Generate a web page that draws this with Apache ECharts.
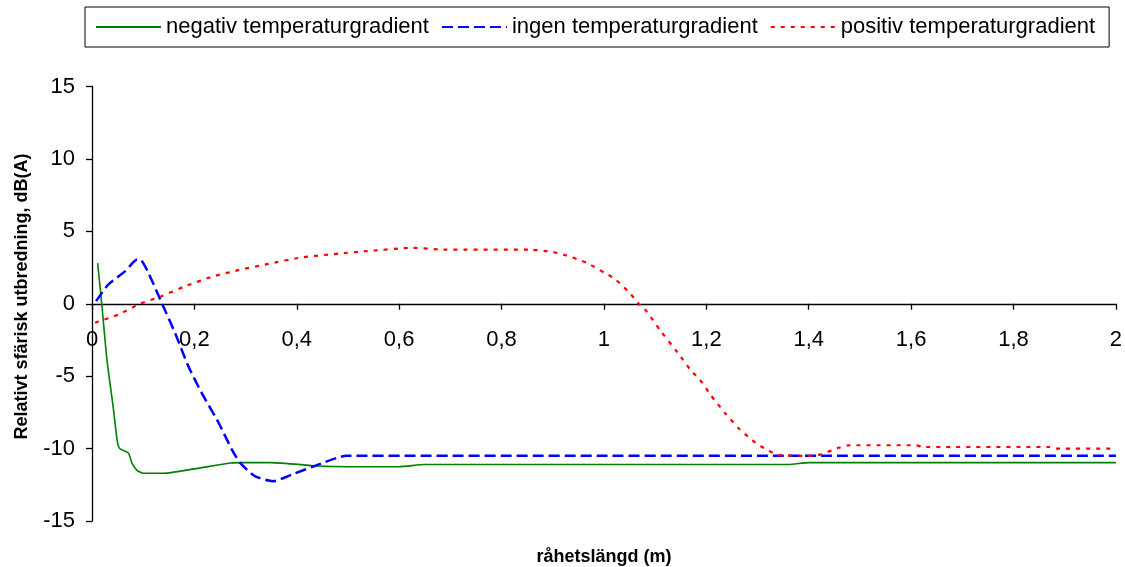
<!DOCTYPE html>
<html>
<head>
<meta charset="utf-8">
<script src="https://cdn.jsdelivr.net/npm/echarts@6/dist/echarts.min.js"></script>
<style>
html,body{margin:0;padding:0;background:#fff;}
#chart{width:1125px;height:567px;}
</style>
</head>
<body>
<div id="chart"></div>
<script>
// Series names
var seriesNames = ['negativ temperaturgradient', 'ingen temperaturgradient', 'positiv temperaturgradient'];

// negativ temperaturgradient
var negX = [0.011, 0.019, 0.029, 0.042, 0.049, 0.054, 0.071, 0.078, 0.088, 0.10, 0.14, 0.20, 0.27, 0.29, 0.35, 0.44, 0.50, 0.60, 0.65, 1.36, 1.40, 2.0];
var negY = [2.8, 0.0, -3.8, -7.3, -9.4, -10.0, -10.3, -11.0, -11.5, -11.7, -11.7, -11.4, -11.0, -10.97, -10.97, -11.2, -11.25, -11.25, -11.1, -11.1, -10.97, -10.97];

// ingen temperaturgradient
var ingX = [0.008, 0.032, 0.065, 0.088, 0.094, 0.11, 0.136, 0.162, 0.188, 0.214, 0.247, 0.273, 0.289, 0.318, 0.354, 0.39, 0.435, 0.497, 2.0];
var ingY = [0.18, 1.33, 2.25, 3.05, 3.05, 2.14, 0.07, -2.0, -4.3, -6.14, -8.2, -10.05, -10.97, -11.9, -12.25, -11.8, -11.2, -10.5, -10.5];

// positiv temperaturgradient
var posX = [0.006, 0.052, 0.094, 0.136, 0.182, 0.234, 0.286, 0.344, 0.41, 0.484, 0.536, 0.627, 0.686, 0.855, 0.90, 0.927, 0.966, 1.001, 1.021, 1.05, 1.066, 1.083, 1.109, 1.144, 1.171, 1.187, 1.21, 1.236, 1.265, 1.284, 1.30, 1.32, 1.34, 1.41, 1.46, 1.48, 1.61, 1.622, 1.87, 1.883, 2.0];
var posY = [-1.31, -0.74, 0, 0.52, 1.21, 1.86, 2.32, 2.75, 3.2, 3.47, 3.63, 3.86, 3.74, 3.74, 3.56, 3.33, 2.83, 2.14, 1.72, 0.76, 0.07, -0.51, -1.8, -3.38, -4.65, -5.22, -6.37, -7.52, -8.67, -9.24, -9.7, -10.1, -10.45, -10.5, -9.93, -9.77, -9.77, -9.89, -9.89, -10.0, -10.0];

// Axis texts
var xTitle = 'råhetslängd (m)';
var yTitle = 'Relativt sfärisk utbredning, dB(A)';

function zip(xs, ys) { return xs.map(function (x, i) { return [x, ys[i]]; }); }

var FONT = '"Liberation Sans", Arial, sans-serif';
var chart = echarts.init(document.getElementById('chart'), null, { renderer: 'canvas' });

chart.setOption({
  animation: false,
  backgroundColor: '#fff',
  textStyle: { fontFamily: FONT },
  legend: {
    left: 85, top: 7,
    padding: [9, 14, 9, 10],
    borderColor: '#000', borderWidth: 1,
    itemWidth: 65, itemHeight: 14, itemGap: 12,
    itemStyle: { opacity: 0, color: 'rgba(0,0,0,0)', borderWidth: 0 },
    textStyle: { fontSize: 22, color: '#000', fontFamily: FONT, lineHeight: 22 },
    data: seriesNames
  },
  grid: { left: 92, right: 9, top: 86.5, bottom: 46 },
  xAxis: {
    type: 'value', min: 0, max: 2, interval: 0.2,
    axisLine: { show: true, onZero: true, lineStyle: { color: '#000', width: 1.3 } },
    axisTick: { show: true, inside: false, length: 6, lineStyle: { color: '#000', width: 1.3 } },
    axisLabel: {
      margin: -192, fontSize: 22, color: '#000', fontFamily: FONT,
      formatter: function (v) { return (Math.round(v * 10) / 10).toString().replace('.', ','); }
    },
    splitLine: { show: false }
  },
  yAxis: {
    type: 'value', min: -15, max: 15, interval: 5,
    axisLine: { show: true, onZero: false, lineStyle: { color: '#000', width: 1.3 } },
    axisTick: { show: true, inside: false, length: 6, lineStyle: { color: '#000', width: 1.3 } },
    axisLabel: { margin: 17, fontSize: 22, color: '#000', fontFamily: FONT },
    splitLine: { show: false }
  },
  graphic: [
    {
      type: 'text', x: 604, y: 557,
      style: { text: xTitle, font: 'bold 18px ' + FONT, fill: '#000', align: 'center', verticalAlign: 'middle' }
    },
    {
      type: 'text', x: 22, y: 296.5, rotation: Math.PI / 2,
      style: { text: yTitle, font: 'bold 18px ' + FONT, fill: '#000', align: 'center', verticalAlign: 'middle' }
    }
  ],
  series: [
    {
      name: seriesNames[0], type: 'line', data: zip(negX, negY),
      symbol: 'none', showSymbol: false, smooth: 0.2,
      lineStyle: { color: '#008000', width: 1.6, type: 'solid' },
      itemStyle: { color: '#008000' }
    },
    {
      name: seriesNames[1], type: 'line', data: zip(ingX, ingY),
      symbol: 'none', showSymbol: false, smooth: 0.2,
      lineStyle: { color: '#0000FF', width: 2.5, type: [11, 5] },
      itemStyle: { color: '#0000FF' }
    },
    {
      name: seriesNames[2], type: 'line', data: zip(posX, posY),
      symbol: 'none', showSymbol: false, smooth: 0.2,
      lineStyle: { color: '#FF0000', width: 2.2, type: [4, 6] },
      itemStyle: { color: '#FF0000' }
    }
  ]
});
</script>
</body>
</html>
